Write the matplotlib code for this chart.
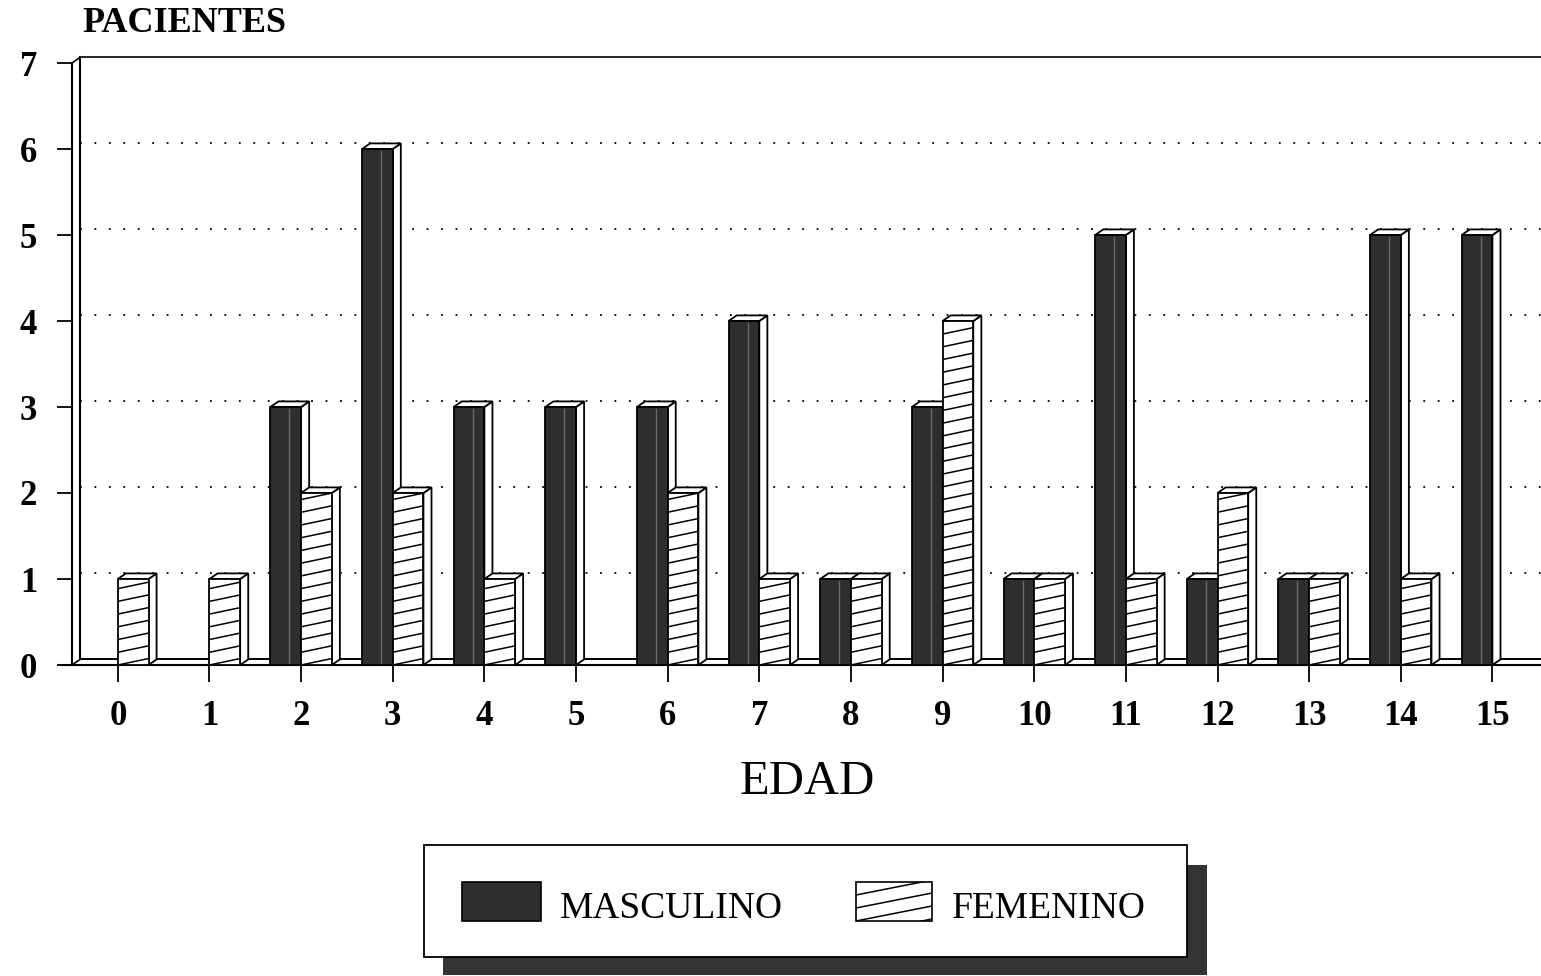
import matplotlib
matplotlib.use("Agg")
import matplotlib.pyplot as plt
from matplotlib.patches import Rectangle, Polygon

# Patients by age and sex
edades = list(range(16))
masculino = [0, 0, 3, 6, 3, 3, 3, 4, 1, 3, 1, 5, 1, 1, 5, 5]
femenino = [1, 1, 2, 2, 1, 0, 2, 1, 1, 4, 1, 1, 2, 1, 1, 0]

W, H = 1541, 976
SERIF = "Liberation Serif"
DARK = "#2e2e2e"

fig = plt.figure(figsize=(W / 100, H / 100), dpi=100)
fig.patch.set_facecolor("white")


def px_box(x0, y0, x1, y1):
    # pixel box (top-left origin) -> figure fraction [left, bottom, width, height]
    return [x0 / W, 1 - y1 / H, (x1 - x0) / W, (y1 - y0) / H]


ax = fig.add_axes(px_box(72, 63, 1541, 665))
xmin, xmax = -0.5, 15.53
ax.set_xlim(xmin, xmax)
ax.set_ylim(0, 7)
for s in ax.spines.values():
    s.set_visible(False)

bw = 0.335   # bar width
dx, dy = 0.088, 0.065   # 3D depth offset
lw = 1.3


def hatch_lines(x0, w, h, clip):
    step, rise = 0.148, 0.075
    k = -2
    while True:
        yb = k * step
        if yb > h + 0.2:
            break
        ln, = ax.plot([x0, x0 + w], [yb, yb + rise], color="black", lw=1.1,
                      zorder=4, solid_capstyle="butt")
        ln.set_clip_path(clip)
        k += 1


def bar3d(x0, h, dark):
    if h <= 0:
        return
    top = Polygon([(x0, h), (x0 + dx, h + dy), (x0 + bw + dx, h + dy), (x0 + bw, h)],
                  closed=True, facecolor="white", edgecolor="black", lw=lw, zorder=3)
    side = Polygon([(x0 + bw, 0), (x0 + bw + dx, dy), (x0 + bw + dx, h + dy), (x0 + bw, h)],
                   closed=True, facecolor="white", edgecolor="black", lw=lw, zorder=3)
    front = Rectangle((x0, 0), bw, h, facecolor=DARK if dark else "white",
                      edgecolor="black", lw=lw, zorder=3)
    for p in (side, top, front):
        ax.add_patch(p)
    if dark:
        ax.plot([x0 + bw * 0.62] * 2, [0.02, h - 0.02], color="#6a6a6a", lw=1.0, zorder=4)
    else:
        hatch_lines(x0, bw, h, front)


# back wall, floor and left wall
ax.plot([xmin + dx, xmax], [7 + dy, 7 + dy], color="black", lw=1.2, zorder=1, clip_on=False)
for v in range(1, 7):
    ax.plot([xmin + dx, xmax], [v + dy, v + dy], color="black", lw=1.3,
            linestyle=(0, (1, 7)), zorder=1)
ax.plot([xmin, xmin], [0, 7], color="black", lw=1.5, zorder=1, clip_on=False)
ax.plot([xmin + dx, xmin + dx], [dy, 7 + dy], color="black", lw=1.5, zorder=1, clip_on=False)
ax.plot([xmin, xmin + dx], [7, 7 + dy], color="black", lw=1.2, zorder=1, clip_on=False)
ax.plot([xmin + dx, xmax], [dy, dy], color="black", lw=1.4, zorder=1)
ax.plot([xmin - 0.12, xmax], [0, 0], color="black", lw=1.5, zorder=1, clip_on=False)
ax.plot([xmin, xmin + dx], [0, dy], color="black", lw=1.2, zorder=1)

# bars: male to the left of the tick, female to the right
for i, e in enumerate(edades):
    bar3d(e - bw, masculino[i], True)
    bar3d(e, femenino[i], False)

ax.set_xticks(edades)
ax.set_xticklabels([str(e) for e in edades], fontsize=25, fontweight="bold", family=SERIF)
ax.set_yticks(range(8))
ax.set_yticklabels([str(v) for v in range(8)], fontsize=25, fontweight="bold", family=SERIF)
ax.tick_params(axis="x", length=12, width=1.3, pad=13, direction="out")
ax.tick_params(axis="y", length=11, width=1.3, pad=14, direction="out")
ax.set_facecolor("none")

fig.text(82 / W, 1 - 24 / H, "PACIENTES", fontsize=26, fontweight="bold", family=SERIF,
         ha="left", va="center")
fig.text(807 / W, 1 - 782 / H, "EDAD", fontsize=35, family=SERIF, ha="center", va="center")

# legend box with drop shadow, drawn in pixel units
lax = fig.add_axes(px_box(424, 845, 1187, 957))
lax.set_xlim(424, 1187)
lax.set_ylim(957, 845)
lax.axis("off")
lax.add_patch(Rectangle((443, 865), 1207 - 443, 975 - 865, facecolor="#333333",
                        edgecolor="none", clip_on=False, zorder=0))
lax.add_patch(Rectangle((424, 845), 1187 - 424, 957 - 845, facecolor="white",
                        edgecolor="black", lw=1.3, clip_on=False, zorder=1))
lax.add_patch(Rectangle((462, 882), 79, 39, facecolor=DARK, edgecolor="black", lw=1.2, zorder=2))
hb = Rectangle((856, 882), 76, 39, facecolor="white", edgecolor="black", lw=1.2, zorder=2)
lax.add_patch(hb)
for k in range(-2, 5):
    yb = 921 - k * 13
    ln, = lax.plot([856, 932], [yb, yb - 15], color="black", lw=1.1, zorder=3)
    ln.set_clip_path(hb)
lax.text(560, 909, "MASCULINO", fontsize=27, family=SERIF, ha="left", va="center", zorder=3)
lax.text(952, 909, "FEMENINO", fontsize=27, family=SERIF, ha="left", va="center", zorder=3)

fig.savefig("out.png", dpi=100)
